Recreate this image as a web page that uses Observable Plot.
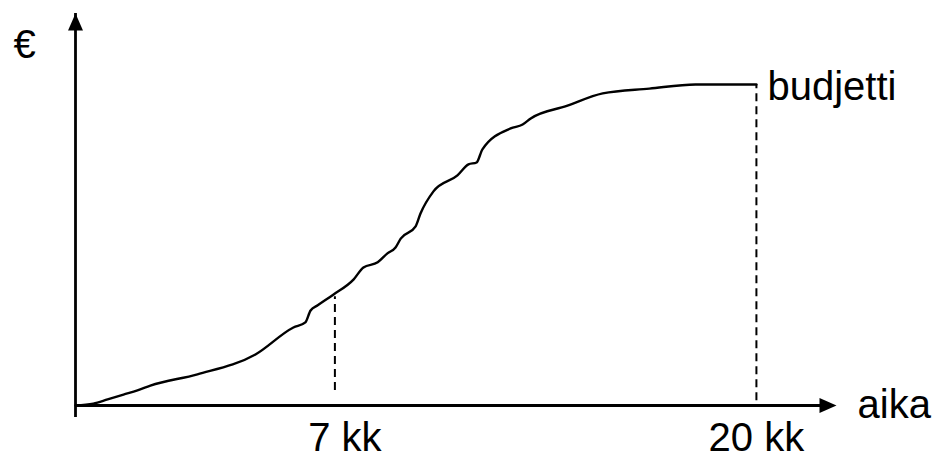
<!DOCTYPE html>
<html>
<head>
<meta charset="utf-8">
<script src="https://cdn.jsdelivr.net/npm/d3@7"></script>
<script src="https://cdn.jsdelivr.net/npm/@observablehq/plot@0.6"></script>
<style>
  html, body { margin: 0; padding: 0; background: #fff; }
  #chart svg { display: block; }
</style>
</head>
<body>
<div id="chart"></div>
<script>
// Time in months (kk) and cumulative cost as % of budget
const months = [-1.00, -0.45, -0.01, 0.48, 0.91, 1.31, 2.76, 4.55, 5.72, 6.09, 6.25, 6.47, 6.96,
  7.58, 7.88, 8.32, 8.62, 8.87, 9.03, 9.49, 9.64, 10.04, 10.78, 11.12, 11.37, 11.55,
  12.42, 12.79, 13.04, 14.15, 15.26, 16.7, 18.12, 19.0, 20.0];
const spend = [0, 0.6, 1.9, 3.4, 4.7, 6.2, 9.7, 15.9, 24.3, 25.9, 29.6, 31.2, 34.6,
  39.3, 43.0, 44.6, 47.4, 49.2, 52.0, 55.8, 59.8, 66.7, 71.7, 75.1, 75.7, 79.8,
  86.3, 87.5, 89.4, 93.3, 97.2, 98.7, 100, 100, 100];

const markerMonths = [7, 20];
const markerLabels = ["7 kk", "20 kk"];
const budget = 100;
const xDomain = [-1, 22.47];
const yDomain = [0, 122.1];

const curve = months.map((m, i) => ({m, v: spend[i]}));
const guides = [
  {m: markerMonths[0], y1: 4.7, y2: 33.9},
  {m: markerMonths[1], y1: 1.5, y2: budget}
];

const font = "Liberation Sans, Arial, Helvetica, sans-serif";

const rightTri = {draw(ctx) { ctx.moveTo(8.5, 0); ctx.lineTo(-8.5, -7.5); ctx.lineTo(-8.5, 7.5); ctx.closePath(); }};
const upTri = {draw(ctx) { ctx.moveTo(0, -8.5); ctx.lineTo(7.5, 8.5); ctx.lineTo(-7.5, 8.5); ctx.closePath(); }};

const chart = Plot.plot({
  width: 935,
  height: 459,
  marginLeft: 75,
  marginRight: 99,
  marginTop: 13,
  marginBottom: 54,
  x: {domain: xDomain, axis: null},
  y: {domain: yDomain, axis: null},
  style: {background: "white", overflow: "visible", fontFamily: font},
  marks: [
    // axes
    Plot.ruleY([0], {x1: xDomain[0], x2: xDomain[1], stroke: "black", strokeWidth: 2.8, insetRight: 12}),
    Plot.ruleX([xDomain[0]], {y1: 0, y2: yDomain[1], stroke: "black", strokeWidth: 2.8, insetTop: 12}),
    Plot.dot([{x: xDomain[1], y: 0}], {x: "x", y: "y", symbol: rightTri, fill: "black", stroke: null, r: 5, dx: -8.5}),
    Plot.dot([{x: xDomain[0], y: yDomain[1]}], {x: "x", y: "y", symbol: upTri, fill: "black", stroke: null, r: 5, dy: 8.5}),
    // dashed guides
    Plot.ruleX(guides, {x: "m", y1: "y1", y2: "y2", stroke: "black", strokeWidth: 2, strokeDasharray: "8,5"}),
    // S-curve
    Plot.line(curve, {x: "m", y: "v", stroke: "black", strokeWidth: 2.4, curve: "monotone-x"}),
    // labels
    Plot.text([{x: markerMonths[0], y: 0}], {x: "x", y: "y", text: () => markerLabels[0], fontSize: 40, lineAnchor: "middle", dy: 33, dx: 10, fill: "black"}),
    Plot.text([{x: markerMonths[1], y: 0}], {x: "x", y: "y", text: () => markerLabels[1], fontSize: 40, lineAnchor: "middle", dy: 33, dx: 0, fill: "black"}),
    Plot.text([{x: markerMonths[1], y: budget}], {x: "x", y: "y", text: () => "budjetti", fontSize: 40, textAnchor: "start", lineAnchor: "middle", dx: 11, dy: 3, fill: "black"}),
    Plot.text([{x: xDomain[1], y: 0}], {x: "x", y: "y", text: () => "aika", fontSize: 40, textAnchor: "start", lineAnchor: "middle", dx: 21, fill: "black"}),
    Plot.text([{x: xDomain[0], y: yDomain[1]}], {x: "x", y: "y", text: () => "€", fontSize: 40, textAnchor: "middle", lineAnchor: "middle", dx: -51, dy: 32, fill: "black"})
  ]
});
document.getElementById("chart").appendChild(chart);
</script>
</body>
</html>
